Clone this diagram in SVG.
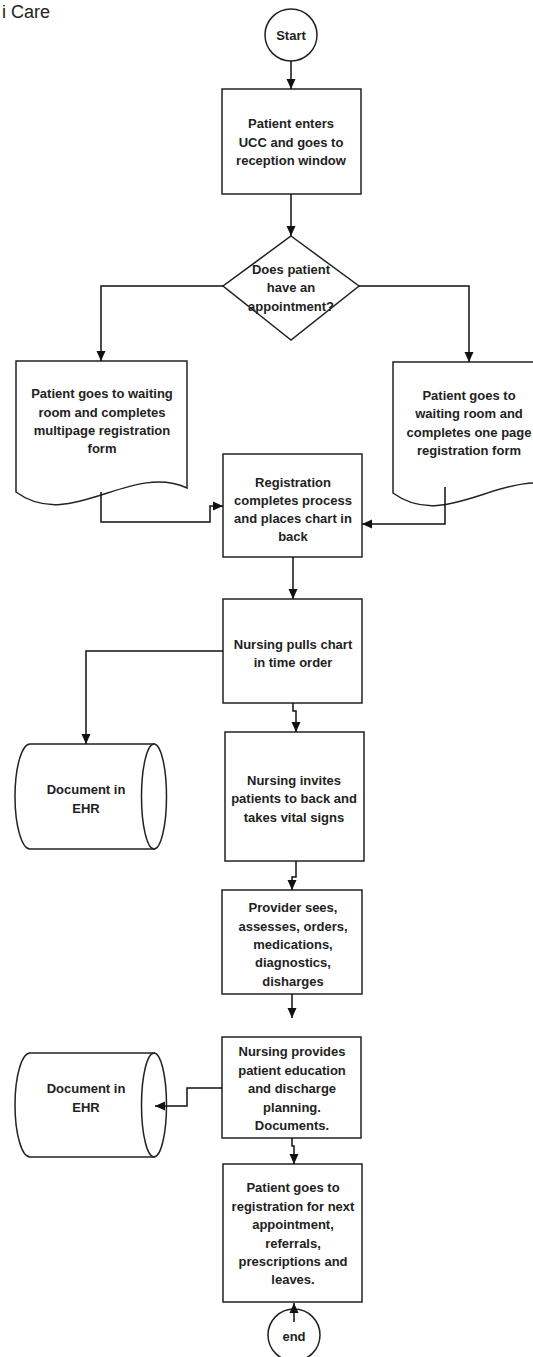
<svg xmlns="http://www.w3.org/2000/svg" width="533" height="1357" viewBox="0 0 533 1357">
<defs>
<style>
.sh{fill:#fff;stroke:#222;stroke-width:1.5}
.ln{fill:none;stroke:#111;stroke-width:1.5}
.t{font-family:"Liberation Sans",Arial,sans-serif;font-size:13px;font-weight:bold;fill:#222;text-anchor:middle}
.title{font-family:"Liberation Sans",Arial,sans-serif;font-size:18px;fill:#222}
</style>
<marker id="ah" markerUnits="userSpaceOnUse" markerWidth="10" markerHeight="10" viewBox="0 0 10 10" refX="10" refY="5" orient="auto">
<path d="M0,0.5 L10,5 L0,9.5 Z" fill="#111"/>
</marker>
</defs>
<rect width="533" height="1357" fill="#fff"/>
<text class="title" x="2" y="18">i Care</text>

<g id="start">
<circle class="sh" cx="291" cy="35" r="26"/>
<text class="t" x="291" y="40">Start</text>
</g>

<g id="enter">
<rect class="sh" x="222" y="89" width="139" height="105"/>
<text class="t"><tspan x="291" y="127.5">Patient enters</tspan><tspan x="291" y="146.5">UCC and goes to</tspan><tspan x="291" y="164.5">reception window</tspan></text>
</g>

<g id="decision">
<path class="sh" d="M291,236 L359,286 L291,340 L223,286 Z"/>
<text class="t"><tspan x="291" y="273.5">Does patient</tspan><tspan x="291" y="291.5">have an</tspan><tspan x="291" y="310.5">appointment?</tspan></text>
</g>

<g id="doc-multi">
<path class="sh" d="M16,361 H187 V488 C130,462 70,532 16,492 Z"/>
<text class="t"><tspan x="102" y="397.5">Patient goes to waiting</tspan><tspan x="102" y="416.5">room and completes</tspan><tspan x="102" y="434.5">multipage registration</tspan><tspan x="102" y="452.5">form</tspan></text>
</g>

<g id="doc-one">
<path class="sh" d="M393,362 H564 V489 C507,463 447,533 393,493 Z"/>
<text class="t"><tspan x="469" y="399.5">Patient goes to</tspan><tspan x="469" y="417.5">waiting room and</tspan><tspan x="469" y="436.5">completes one page</tspan><tspan x="469" y="454.5">registration form</tspan></text>
</g>

<g id="registration">
<rect class="sh" x="223" y="454" width="139" height="103"/>
<text class="t"><tspan x="293" y="486.5">Registration</tspan><tspan x="293" y="504.5">completes process</tspan><tspan x="293" y="522.5">and places chart in</tspan><tspan x="293" y="540.5">back</tspan></text>
</g>

<g id="pulls">
<rect class="sh" x="223" y="599" width="139" height="104"/>
<text class="t"><tspan x="293" y="648.5">Nursing pulls chart</tspan><tspan x="293" y="666.5">in time order</tspan></text>
</g>

<g id="ehr1">
<path class="sh" d="M30,744 H154 V849 H30 A15,52.5 0 0 1 30,744 Z"/>
<ellipse class="sh" cx="154" cy="796.5" rx="12.5" ry="52.5"/>
<text class="t"><tspan x="86" y="793.5">Document in</tspan><tspan x="86" y="812.5">EHR</tspan></text>
</g>

<g id="vitals">
<rect class="sh" x="225" y="732" width="139" height="129"/>
<text class="t"><tspan x="294" y="784.5">Nursing invites</tspan><tspan x="294" y="802.5">patients to back and</tspan><tspan x="294" y="821.5">takes vital signs</tspan></text>
</g>

<g id="provider">
<rect class="sh" x="222" y="890" width="140" height="104"/>
<text class="t"><tspan x="293" y="911.5">Provider sees,</tspan><tspan x="293" y="930.5">assesses, orders,</tspan><tspan x="293" y="948.5">medications,</tspan><tspan x="293" y="966.5">diagnostics,</tspan><tspan x="293" y="985.5">disharges</tspan></text>
</g>

<g id="education">
<rect class="sh" x="222" y="1037" width="139" height="101"/>
<text class="t"><tspan x="292" y="1055.5">Nursing provides</tspan><tspan x="292" y="1074.5">patient education</tspan><tspan x="292" y="1092.5">and discharge</tspan><tspan x="292" y="1111.5">planning.</tspan><tspan x="292" y="1129.5">Documents.</tspan></text>
</g>

<g id="ehr2">
<path class="sh" d="M30,1053 H154 V1157 H30 A15,52 0 0 1 30,1053 Z"/>
<ellipse class="sh" cx="154" cy="1105" rx="12.5" ry="52"/>
<text class="t"><tspan x="86" y="1092.5">Document in</tspan><tspan x="86" y="1111.5">EHR</tspan></text>
</g>

<g id="leaves">
<rect class="sh" x="223" y="1164" width="139" height="138"/>
<text class="t"><tspan x="293" y="1191.5">Patient goes to</tspan><tspan x="293" y="1210.5">registration for next</tspan><tspan x="293" y="1228.5">appointment,</tspan><tspan x="293" y="1247.5">referrals,</tspan><tspan x="293" y="1265.5">prescriptions and</tspan><tspan x="293" y="1283.5">leaves.</tspan></text>
</g>

<g id="end">
<circle class="sh" cx="294" cy="1335" r="26"/>
<text class="t" x="294" y="1341">end</text>
</g>

<g id="connectors">
<path class="ln" d="M291,61 V89" marker-end="url(#ah)"/>
<path class="ln" d="M291,194 V236" marker-end="url(#ah)"/>
<path class="ln" d="M223,286 H101 V361" marker-end="url(#ah)"/>
<path class="ln" d="M359,286 H469 V362" marker-end="url(#ah)"/>
<path class="ln" d="M101,492 V522 H210 V506 H223" marker-end="url(#ah)"/>
<path class="ln" d="M445,487 V524 H362" marker-end="url(#ah)"/>
<path class="ln" d="M293,557 V599" marker-end="url(#ah)"/>
<path class="ln" d="M223,651 H86 V744" marker-end="url(#ah)"/>
<path class="ln" d="M293,703 V711 H296 V732" marker-end="url(#ah)"/>
<path class="ln" d="M296,861 V877 H292 V890" marker-end="url(#ah)"/>
<path class="ln" d="M292,994 V1018" marker-end="url(#ah)"/>
<path class="ln" d="M222,1088 H187 V1106 H155" marker-end="url(#ah)"/>
<path class="ln" d="M292,1138 V1146 H294 V1164" marker-end="url(#ah)"/>
<path class="ln" d="M294,1322 V1303" marker-end="url(#ah)"/>
</g>
</svg>
